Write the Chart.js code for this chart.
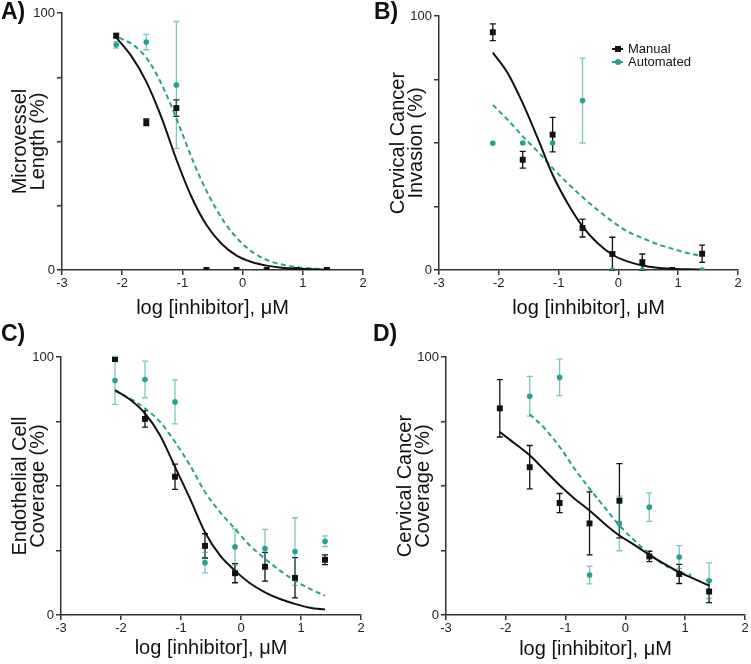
<!DOCTYPE html>
<html>
<head>
<meta charset="utf-8">
<script src="https://cdn.jsdelivr.net/npm/chart.js@4.4.1/dist/chart.umd.min.js"></script>
<style>
  body { margin: 0; background: #fff; font-family: "Liberation Sans", Arial, sans-serif; }
  #wrap { position: relative; width: 751px; height: 664px; overflow: hidden; }
  canvas { position: absolute; }
  .tag { position: absolute; font-weight: bold; font-size: 23px; line-height: 23px; color: #111; }
  .legend { position: absolute; left: 612px; top: 42px; font-size: 13px; line-height: 14px; color: #111; }
  .row { display: flex; align-items: center; height: 14px; margin-bottom: -0.7px; }
  .mk { position: relative; width: 11px; height: 14px; margin-right: 5px; }
  .mk .ln { position: absolute; left: 0; top: 6px; width: 11px; height: 2px; }
  .mk .dot { position: absolute; left: 3px; top: 4px; width: 6px; height: 6px; }
</style>
</head>
<body>
<div id="wrap">
  <canvas id="chartA" width="375" height="322" style="left:0;top:0"></canvas>
  <canvas id="chartB" width="376" height="322" style="left:375px;top:0"></canvas>
  <canvas id="chartC" width="375" height="342" style="left:0;top:322px"></canvas>
  <canvas id="chartD" width="376" height="342" style="left:375px;top:322px"></canvas>
  <div class="tag" style="left:1px;top:0">A)</div>
  <div class="tag" style="left:374px;top:0">B)</div>
  <div class="tag" style="left:1px;top:322px">C)</div>
  <div class="tag" style="left:373px;top:322px">D)</div>
  <div class="legend">
    <div class="row"><span class="mk"><span class="ln" style="background:#111"></span><span class="dot" style="background:#111"></span></span>Manual</div>
    <div class="row"><span class="mk"><span class="ln" style="background:#26a08f"></span><span class="dot" style="background:#26a08f;border-radius:50%"></span></span>Automated</div>
  </div>
</div>
<script>
// Doses (log uM)
const doses = [-2.1, -1.6, -1.1, -0.6, -0.1, 0.4, 0.9, 1.4];
const fitX = [-2.1, -1.85, -1.6, -1.35, -1.1, -0.85, -0.6, -0.35, -0.1, 0.15, 0.4, 0.65, 0.9, 1.15, 1.4];
const xTicks = [-3, -2, -1, 0, 1, 2];
const yTickLabels = [0, 100];

// A) Microvessel length
const manualA = [91.2, 57.5, 63.0, 0, 0, 0, 0, 0];
const manualErrA = [0.8, 1.3, 3.2, 0, 0, 0, 0, 0];
const autoA = [87.6, 88.7, 72.0, 0, 0, 0, 0, 0];
const autoErrA = [1.3, 3.0, 24.7, 0, 0, 0, 0, 0];
const manualFitA = [90.5, 83.3, 73.3, 59.5, 43, 28.5, 17.5, 10.2, 5.6, 3.1, 1.7, 0.9, 0.5, 0.3, 0.1];
const autoFitXA = [-2.05, -1.8, -1.55, -1.3, -1.05, -0.8, -0.55, -0.3, -0.05, 0.2, 0.45, 0.7, 0.95, 1.2, 1.3];
const autoFitA = [90.4, 87.3, 81, 70, 56, 41, 28.5, 18.5, 11.3, 6.4, 3.5, 1.9, 1.0, 0.5, 0.4];

// B) Cervical cancer invasion
const manualB = [93.6, 43.4, 53.3, 16.5, 6.3, 3.1, 0, 6.4];
const manualErrB = [3.3, 3.3, 6.8, 3.5, 6.6, 3.2, 0, 3.4];
const autoB = [49.9, 50, 50, 66.7, 0, 0, 0, 0];
const autoErrB = [0, 0, 0, 16.7, 0, 0, 0, 0];
const manualFitB = [85.6, 77.5, 65.7, 51.9, 37.5, 26.3, 17.2, 10.6, 6.0, 3.4, 1.8, 0.9, 0.5, 0.3, 0.2];
const autoFitB = [65, 59.1, 52.6, 46.7, 40.1, 34.2, 28.7, 23.7, 19.1, 15.2, 12.6, 10.2, 8.4, 6.7, 5.6];

// C) Endothelial cell coverage
const manualC = [99.2, 76.0, 53.6, 26.8, 16.2, 18.7, 14.4, 21.4];
const manualErrC = [0.5, 3.2, 4.9, 4.7, 3.7, 5.6, 7.8, 1.9];
const autoC = [90.9, 91.3, 82.6, 20.3, 26.4, 25.8, 24.6, 28.6];
const autoErrC = [9.3, 7.1, 8.5, 4.0, 7.0, 7.4, 13.1, 2.1];
const manualFitC = [87.2, 83.5, 78.1, 69.7, 57.4, 45.1, 32.1, 23.1, 17.2, 12.3, 8.8, 6.2, 4.3, 2.8, 2.1];
const autoFitC = [86.8, 83.9, 80.1, 74.9, 67.1, 58, 47.7, 39.9, 33.4, 26.9, 21.8, 17.2, 13.3, 10.1, 7.5];

// D) Cervical cancer coverage
const manualD = [80.1, 57.3, 43.4, 35.5, 44.3, 22.7, 15.9, 9.1];
const manualErrD = [11.1, 8.4, 3.7, 12.2, 14.4, 2.0, 3.7, 4.3];
const autoD = [null, 84.8, 92.1, 15.5, 35.5, 41.8, 22.5, 13.3];
const autoErrD = [null, 7.7, 7.1, 3.4, 10.6, 5.5, 4.4, 6.9];
const manualFitD = [70.9, 66.5, 61.9, 56.1, 50.3, 45.1, 40.5, 35.4, 30.8, 27.2, 23.3, 19.8, 16.6, 14, 11.4];
const autoFitXD = [-1.6, -1.35, -1.1, -0.85, -0.6, -0.35, -0.1, 0.15, 0.4, 0.65, 0.9, 1.1];
const autoFitD = [77.8, 72.3, 65.2, 56.7, 49, 41.8, 34.7, 28.9, 23.7, 19.4, 16.6, 15.5];

// Colors
const black = "#111111";
const teal = "#26a08f";
const tealErr = "rgba(38,160,143,0.6)";
const axisColor = "#333333";
const fontFamily = "'Liberation Sans', Arial, sans-serif";

// keep nulls so indices line up with the error arrays
const toPoints = (xs, ys) => xs.map((x, i) => ({ x: x, y: ys[i] }));

// Error bars drawn through the chart's scales
const errorBars = {
  id: "errorBars",
  beforeDatasetsDraw(chart) {
    const { ctx, scales } = chart;
    chart.data.datasets.forEach((ds) => {
      if (!ds.err) return;
      ctx.save();
      ctx.strokeStyle = ds.errColor;
      ctx.lineWidth = 1.3;
      ds.data.forEach((p, i) => {
        const e = ds.err[i];
        if (!e || p.y === null) return;
        const x = scales.x.getPixelForValue(p.x);
        const top = scales.y.getPixelForValue(p.y + e);
        const bot = scales.y.getPixelForValue(Math.max(p.y - e, 0));
        ctx.beginPath();
        ctx.moveTo(x, top); ctx.lineTo(x, bot);
        ctx.moveTo(x - 3, top); ctx.lineTo(x + 3, top);
        ctx.moveTo(x - 3, bot); ctx.lineTo(x + 3, bot);
        ctx.stroke();
      });
      ctx.restore();
    });
  },
};

// Build one panel
const makeChart = (id, p) => {
  const data = {
    datasets: [
      {
        data: toPoints(doses, p.manual), err: p.manualErr, errColor: black,
        pointStyle: "rect", pointRadius: 4.2, backgroundColor: black, borderColor: black, borderWidth: 0,
        showLine: false, order: 1,
      },
      {
        data: toPoints(doses, p.auto), err: p.autoErr, errColor: tealErr,
        pointStyle: "circle", pointRadius: 2.8, backgroundColor: teal, borderColor: teal, borderWidth: 0,
        showLine: false, order: 2,
      },
      {
        data: toPoints(p.autoFitX, p.autoFit), showLine: true, pointRadius: 0,
        borderColor: teal, borderWidth: 2, borderDash: [5, 3.5], cubicInterpolationMode: "monotone", order: 4,
      },
      {
        data: toPoints(fitX, p.manualFit), showLine: true, pointRadius: 0,
        borderColor: black, borderWidth: 2, cubicInterpolationMode: "monotone", order: 3,
      },
    ],
  };

  const config = {
    type: "scatter",
    data: data,
    options: {
      responsive: false,
      animation: false,
      layout: { padding: p.padding },
      plugins: { legend: { display: false }, tooltip: { enabled: false } },
      scales: {
        x: {
          type: "linear", min: -3, max: 2,
          afterFit: (s) => { s.height = p.xHeight; },
          afterBuildTicks: (s) => { s.ticks = xTicks.map((v) => ({ value: v })); },
          border: { color: axisColor, width: 1.5 },
          grid: { drawOnChartArea: false, tickLength: 5, tickColor: axisColor, lineWidth: 1.5 },
          ticks: { color: "#222", font: { family: fontFamily, size: 13 }, padding: 1 },
          title: {
            display: true, text: "log [inhibitor], μM", color: "#111",
            font: { family: fontFamily, size: 20 }, padding: { top: 0, bottom: p.xTitlePad },
          },
        },
        y: {
          min: 0, max: 100,
          afterFit: (s) => { s.width = p.yWidth; },
          border: { color: axisColor, width: 1.5 },
          grid: { drawOnChartArea: false, tickLength: 5, tickColor: axisColor, lineWidth: 1.5 },
          ticks: {
            stepSize: 25, color: "#222", font: { family: fontFamily, size: 13 }, padding: 2,
            callback: (v) => (yTickLabels.includes(v) ? v : ""),
          },
          title: {
            display: true, text: p.yTitle, color: "#111",
            font: { family: fontFamily, size: 20, lineHeight: 0.9 }, padding: { top: p.yTitlePad, bottom: 0 },
          },
        },
      },
    },
    plugins: [errorBars],
  };

  return new Chart(document.getElementById(id), config);
};

makeChart("chartA", {
  manual: manualA, manualErr: manualErrA, auto: autoA, autoErr: autoErrA,
  manualFit: manualFitA, autoFitX: autoFitXA, autoFit: autoFitA,
  yTitle: ["Microvessel", "Length (%)"],
  padding: { left: 0, top: 13, right: 12, bottom: 0 }, yWidth: 62, xHeight: 52, yTitlePad: 11, xTitlePad: 2,
});

makeChart("chartB", {
  manual: manualB, manualErr: manualErrB, auto: autoB, autoErr: autoErrB,
  manualFit: manualFitB, autoFitX: fitX, autoFit: autoFitB,
  yTitle: ["Cervical Cancer", "Invasion (%)"],
  padding: { left: 0, top: 16, right: 13, bottom: 0 }, yWidth: 64, xHeight: 52, yTitlePad: 14, xTitlePad: 2,
});

makeChart("chartC", {
  manual: manualC, manualErr: manualErrC, auto: autoC, autoErr: autoErrC,
  manualFit: manualFitC, autoFitX: fitX, autoFit: autoFitC,
  yTitle: ["Endothelial Cell", "Coverage (%)"],
  padding: { left: 0, top: 35, right: 14, bottom: 0 }, yWidth: 61, xHeight: 49, yTitlePad: 11, xTitlePad: 4,
});

makeChart("chartD", {
  manual: manualD, manualErr: manualErrD, auto: autoD, autoErr: autoErrD,
  manualFit: manualFitD, autoFitX: autoFitXD, autoFit: autoFitD,
  yTitle: ["Cervical Cancer", "Coverage (%)"],
  padding: { left: 0, top: 35, right: 6, bottom: 0 }, yWidth: 71, xHeight: 49, yTitlePad: 21, xTitlePad: 3,
});
</script>
</body>
</html>
